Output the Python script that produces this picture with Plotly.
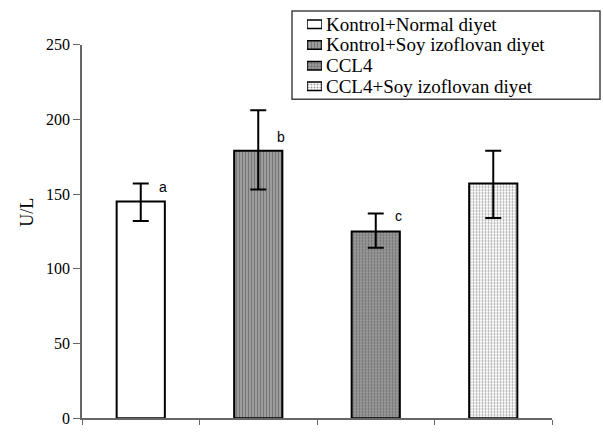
import plotly.graph_objects as go

# ---- data ----
groups = ["Kontrol+Normal diyet", "Kontrol+Soy izoflovan diyet", "CCL4", "CCL4+Soy izoflovan diyet"]
means = [145, 179, 125, 157]
err_plus = [12, 27, 12, 22]
err_minus = [13, 26, 11, 23]
letters = ["a", "b", "c", ""]
letter_y = [155, 188, 135, 0]
y_ticks = [0, 50, 100, 150, 200, 250]
y_title = "U/L"

# ---- styles ----
bg_colors = ["white", "#a8a8a8", "#a0a0a0", "white"]
pat_shapes = ["", "|", ".", "."]
pat_fg = ["black", "#111111", "#1a1a1a", "#c4c4c4"]
pat_size = [3, 3, 3, 3]
pat_sol = [0.3, 0.5, 0.45, 0.35]

W, H = 603, 434
def px(x): return x / W
def py(y): return 1 - y / H

fig = go.Figure()

fig.add_trace(go.Bar(
    x=groups, y=means,
    marker=dict(color=bg_colors, line=dict(color="black", width=2),
                pattern=dict(shape=pat_shapes, fgcolor=pat_fg, size=pat_size,
                             solidity=pat_sol, fillmode="overlay")),
    error_y=dict(type="data", array=err_plus, arrayminus=err_minus,
                 color="black", thickness=2, width=8),
    showlegend=False, xaxis="x", yaxis="y",
))

# legend symbols drawn as small bars in an inset axis
fig.add_trace(go.Bar(
    y=groups, x=[1, 1, 1, 1], orientation="h",
    marker=dict(color=bg_colors, line=dict(color="black", width=1.5),
                pattern=dict(shape=pat_shapes, fgcolor=pat_fg, size=pat_size,
                             solidity=pat_sol, fillmode="overlay")),
    showlegend=False, xaxis="x2", yaxis="y2", hoverinfo="skip",
))

annotations = []
for g, l, ly in zip(groups, letters, letter_y):
    if l:
        annotations.append(dict(x=groups.index(g) + 0.19, y=ly, xref="x", yref="y",
                                text=l, showarrow=False, xanchor="center", yanchor="middle",
                                font=dict(family="Liberation Sans", size=14, color="black")))

row_y = [17, 38.5, 60, 81.5]
for g, ry in zip(groups, row_y):
    annotations.append(dict(x=px(325), y=py(ry), xref="paper", yref="paper", text=g,
                            showarrow=False, xanchor="left", yanchor="middle", borderpad=0,
                            font=dict(family="Liberation Serif", size=19, color="black")))

annotations.append(dict(x=px(27), y=py(213), xref="paper", yref="paper", text=y_title,
                        showarrow=False, textangle=-90, xanchor="center", yanchor="middle",
                        font=dict(family="Liberation Serif", size=18, color="black")))

fig.update_layout(
    width=W, height=H,
    margin=dict(l=0, r=0, t=0, b=0),
    paper_bgcolor="white", plot_bgcolor="white",
    font=dict(family="Liberation Serif", color="black"),
    bargap=0.59,
    xaxis=dict(domain=[px(82), px(552)], type="category", showticklabels=False,
               tickson="boundaries", ticks="outside", ticklen=5, tickcolor="#666",
               showline=True, linecolor="#666", linewidth=1.5, showgrid=False, zeroline=False,
               anchor="y"),
    yaxis=dict(domain=[py(427), py(38)], range=[0, 250], tickvals=y_ticks,
               ticks="outside", ticklen=7, tickcolor="#666", tickwidth=1,
               showline=True, linecolor="#666", linewidth=1.5, showgrid=False, zeroline=False,
               tickfont=dict(family="Liberation Serif", size=16, color="black"),
               ticklabeloverflow="allow", anchor="x"),
    xaxis2=dict(domain=[px(307), px(322)], range=[0, 1], visible=False, anchor="y2"),
    yaxis2=dict(domain=[py(92.25), py(6.25)], type="category", autorange="reversed",
                visible=False, anchor="x2"),
    shapes=[dict(type="rect", xref="paper", yref="paper", x0=px(292), x1=px(600),
                 y0=py(95), y1=py(3), line=dict(color="#444", width=1.5))],
    annotations=annotations,
)

fig.write_html(
    "out.html",
    config={"displayModeBar": False},
    post_script=("document.body.style.margin='0';document.body.style.padding='0';"
                 "document.body.style.overflow='hidden';"
                 "var d=document.getElementById('{plot_id}');"
                 "d.style.position='fixed';d.style.left='0px';d.style.top='0px';"),
)
